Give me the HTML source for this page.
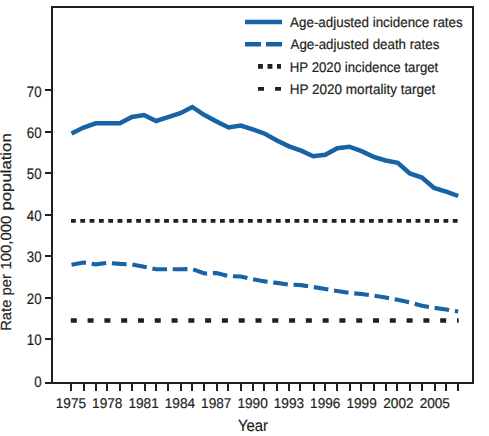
<!DOCTYPE html>
<html><head><meta charset="utf-8"><style>
html,body{margin:0;padding:0;background:#fff;}
svg{display:block;}
text{font-family:"Liberation Sans",sans-serif;fill:#231f20;text-rendering:geometricPrecision;stroke:#231f20;stroke-width:0.2px;}
</style></head><body>
<svg width="489" height="436" viewBox="0 0 489 436">
<rect width="489" height="436" fill="#fff"/>
<path d="M52,384 V7 H473 V384" fill="none" stroke="#231f20" stroke-width="2"/>
<path d="M45,383 H474" fill="none" stroke="#231f20" stroke-width="2"/>
<path d="M45,339 H52" stroke="#231f20" stroke-width="2"/>
<path d="M45,298 H52" stroke="#231f20" stroke-width="2"/>
<path d="M45,256 H52" stroke="#231f20" stroke-width="2"/>
<path d="M45,215 H52" stroke="#231f20" stroke-width="2"/>
<path d="M45,173 H52" stroke="#231f20" stroke-width="2"/>
<path d="M45,132 H52" stroke="#231f20" stroke-width="2"/>
<path d="M45,90 H52" stroke="#231f20" stroke-width="2"/>
<path d="M71,384 V391" stroke="#231f20" stroke-width="2"/>
<path d="M84,384 V391" stroke="#231f20" stroke-width="2"/>
<path d="M96,384 V391" stroke="#231f20" stroke-width="2"/>
<path d="M107,384 V391" stroke="#231f20" stroke-width="2"/>
<path d="M120,384 V391" stroke="#231f20" stroke-width="2"/>
<path d="M132,384 V391" stroke="#231f20" stroke-width="2"/>
<path d="M145,384 V391" stroke="#231f20" stroke-width="2"/>
<path d="M156,384 V391" stroke="#231f20" stroke-width="2"/>
<path d="M168,384 V391" stroke="#231f20" stroke-width="2"/>
<path d="M181,384 V391" stroke="#231f20" stroke-width="2"/>
<path d="M192,384 V391" stroke="#231f20" stroke-width="2"/>
<path d="M204,384 V391" stroke="#231f20" stroke-width="2"/>
<path d="M217,384 V391" stroke="#231f20" stroke-width="2"/>
<path d="M228,384 V391" stroke="#231f20" stroke-width="2"/>
<path d="M241,384 V391" stroke="#231f20" stroke-width="2"/>
<path d="M253,384 V391" stroke="#231f20" stroke-width="2"/>
<path d="M264,384 V391" stroke="#231f20" stroke-width="2"/>
<path d="M277,384 V391" stroke="#231f20" stroke-width="2"/>
<path d="M289,384 V391" stroke="#231f20" stroke-width="2"/>
<path d="M300,384 V391" stroke="#231f20" stroke-width="2"/>
<path d="M314,384 V391" stroke="#231f20" stroke-width="2"/>
<path d="M325,384 V391" stroke="#231f20" stroke-width="2"/>
<path d="M337,384 V391" stroke="#231f20" stroke-width="2"/>
<path d="M350,384 V391" stroke="#231f20" stroke-width="2"/>
<path d="M361,384 V391" stroke="#231f20" stroke-width="2"/>
<path d="M374,384 V391" stroke="#231f20" stroke-width="2"/>
<path d="M386,384 V391" stroke="#231f20" stroke-width="2"/>
<path d="M397,384 V391" stroke="#231f20" stroke-width="2"/>
<path d="M410,384 V391" stroke="#231f20" stroke-width="2"/>
<path d="M422,384 V391" stroke="#231f20" stroke-width="2"/>
<path d="M435,384 V391" stroke="#231f20" stroke-width="2"/>
<path d="M446,384 V391" stroke="#231f20" stroke-width="2"/>
<path d="M458,384 V391" stroke="#231f20" stroke-width="2"/>
<text x="41.6" y="387.4" font-size="15.2" text-anchor="end" textLength="7.4" lengthAdjust="spacingAndGlyphs">0</text>
<text x="41.6" y="344.9" font-size="15.2" text-anchor="end" textLength="14.8" lengthAdjust="spacingAndGlyphs">10</text>
<text x="41.6" y="303.9" font-size="15.2" text-anchor="end" textLength="14.8" lengthAdjust="spacingAndGlyphs">20</text>
<text x="41.6" y="261.9" font-size="15.2" text-anchor="end" textLength="14.8" lengthAdjust="spacingAndGlyphs">30</text>
<text x="41.6" y="220.9" font-size="15.2" text-anchor="end" textLength="14.8" lengthAdjust="spacingAndGlyphs">40</text>
<text x="41.6" y="178.9" font-size="15.2" text-anchor="end" textLength="14.8" lengthAdjust="spacingAndGlyphs">50</text>
<text x="41.6" y="137.9" font-size="15.2" text-anchor="end" textLength="14.8" lengthAdjust="spacingAndGlyphs">60</text>
<text x="41.6" y="96.7" font-size="15.2" text-anchor="end" textLength="14.8" lengthAdjust="spacingAndGlyphs">70</text>
<text x="70.90" y="407.8" font-size="14.2" text-anchor="middle" textLength="30.3" lengthAdjust="spacingAndGlyphs">1975</text>
<text x="107.24" y="407.8" font-size="14.2" text-anchor="middle" textLength="30.3" lengthAdjust="spacingAndGlyphs">1978</text>
<text x="143.58" y="407.8" font-size="14.2" text-anchor="middle" textLength="30.3" lengthAdjust="spacingAndGlyphs">1981</text>
<text x="179.92" y="407.8" font-size="14.2" text-anchor="middle" textLength="30.3" lengthAdjust="spacingAndGlyphs">1984</text>
<text x="216.26" y="407.8" font-size="14.2" text-anchor="middle" textLength="30.3" lengthAdjust="spacingAndGlyphs">1987</text>
<text x="252.59" y="407.8" font-size="14.2" text-anchor="middle" textLength="30.3" lengthAdjust="spacingAndGlyphs">1990</text>
<text x="288.93" y="407.8" font-size="14.2" text-anchor="middle" textLength="30.3" lengthAdjust="spacingAndGlyphs">1993</text>
<text x="325.27" y="407.8" font-size="14.2" text-anchor="middle" textLength="30.3" lengthAdjust="spacingAndGlyphs">1996</text>
<text x="361.61" y="407.8" font-size="14.2" text-anchor="middle" textLength="30.3" lengthAdjust="spacingAndGlyphs">1999</text>
<text x="398.45" y="407.8" font-size="14.2" text-anchor="middle" textLength="30.3" lengthAdjust="spacingAndGlyphs">2002</text>
<text x="434.79" y="407.8" font-size="14.2" text-anchor="middle" textLength="30.3" lengthAdjust="spacingAndGlyphs">2005</text>
<text x="238" y="430.8" font-size="16.2" textLength="30" lengthAdjust="spacingAndGlyphs">Year</text>
<text transform="translate(11,330.8) rotate(-90)" font-size="14.7" textLength="56.6" lengthAdjust="spacingAndGlyphs">Rate per</text>
<text transform="translate(11,269.6) rotate(-90)" font-size="14.7" textLength="54.0" lengthAdjust="spacingAndGlyphs">100,000</text>
<text transform="translate(11,210.5) rotate(-90)" font-size="14.7" textLength="77.2" lengthAdjust="spacingAndGlyphs">population</text>
<path d="M71,220.9 H458.5" stroke="#231f20" stroke-width="3.9" stroke-dasharray="4.8 4.512"/>
<path d="M70.8,320.5 H458.7" stroke="#231f20" stroke-width="4.5" stroke-dasharray="6 10.79"/>
<polyline points="71.50,133.5 83.58,127.5 95.67,123.3 107.75,123.3 119.84,123.3 131.92,117.0 144.01,115.1 156.09,121.0 168.17,117.2 180.26,113.2 192.34,107.0 204.43,115.1 216.51,121.4 228.59,127.4 240.68,125.5 252.76,129.4 264.85,133.7 276.93,140.4 289.02,146.3 301.10,150.6 313.18,156.3 325.27,154.7 337.35,148.2 349.44,146.7 361.52,151.2 373.60,156.9 385.69,160.5 397.77,162.9 409.86,173.4 421.94,177.6 434.03,188.0 446.11,191.7 458.19,196.0" fill="none" stroke="#1763a6" stroke-width="4.5" stroke-linejoin="miter"/>
<polyline points="71.50,264.7 83.58,262.5 95.67,264.4 107.75,262.8 119.84,263.9 131.92,264.4 144.01,266.8 156.09,269.2 168.17,269.2 180.26,269.2 192.34,269.0 204.43,273.5 216.51,273 228.59,276 240.68,276.5 252.76,279.2 264.85,281.4 276.93,282.9 289.02,284.6 301.10,285.1 313.18,287 325.27,289 337.35,291 349.44,293 361.52,294 373.60,295.7 385.69,297.5 397.77,299.8 409.86,302.3 421.94,305.8 434.03,307.8 446.11,309.5 458.19,311.5" fill="none" stroke="#1763a6" stroke-width="4.1" stroke-dasharray="14.7 5.75"/>
<path d="M245,22 H282" stroke="#1763a6" stroke-width="4.5"/>
<path d="M245,44.3 H282" stroke="#1763a6" stroke-width="4.5" stroke-dasharray="16 5"/>
<path d="M258,66.35 H281" stroke="#231f20" stroke-width="4.9" stroke-dasharray="4.9 4.6"/>
<path d="M258,88.85 H281" stroke="#231f20" stroke-width="3.9" stroke-dasharray="6 11.1"/>
<text x="290.1" y="27" font-size="14" textLength="172.6" lengthAdjust="spacingAndGlyphs">Age-adjusted incidence rates</text>
<text x="290.5" y="49" font-size="14" textLength="148.8" lengthAdjust="spacingAndGlyphs">Age-adjusted death rates</text>
<text x="289.8" y="72" font-size="14" textLength="148.5" lengthAdjust="spacingAndGlyphs">HP 2020 incidence target</text>
<text x="289.8" y="94" font-size="14" textLength="145.4" lengthAdjust="spacingAndGlyphs">HP 2020 mortality target</text>
</svg></body></html>
